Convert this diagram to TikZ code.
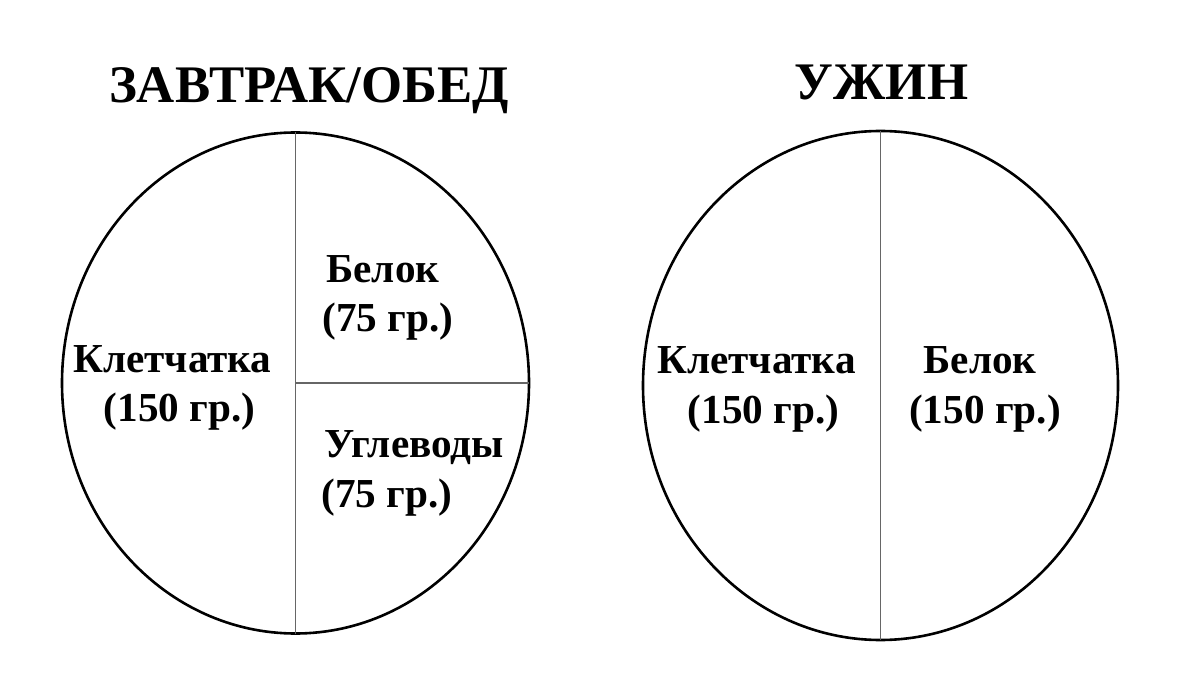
\documentclass[tikz,border=0pt]{standalone}
\usepackage{fontspec}
\setmainfont{Liberation Serif}
\begin{document}
\begin{tikzpicture}[x=0.5pt,y=-0.5pt,
  plate/.style={draw=black,line width=1.3pt},
  divider/.style={draw=black!60,line width=0.7pt},
  titletext/.style={font=\fontsize{26.4pt}{30pt}\selectfont\bfseries,inner sep=0pt,anchor=base},
  bodytext/.style={font=\fontsize{20.6pt}{24pt}\selectfont\bfseries,inner sep=0pt}
]
\useasboundingbox[fill=white] (0,0) rectangle (1200,700);
% titles
\node[titletext] (t1) at (309,103) {ЗАВТРАК/ОБЕД};
\node[titletext] (t2) at (881.5,100) {УЖИН};
% left plate
\coordinate (lc) at (295.5,383);
\draw[plate] (lc) ellipse [x radius=233.5, y radius=250.5];
\coordinate (ltop) at (295.5,132.5);
\coordinate (lbot) at (295.5,633.5);
\coordinate (lright) at (529,383);
\draw[divider] (ltop) -- (lbot);
\draw[divider] (lc) -- (lright);
% right plate
\coordinate (rc) at (880.5,385.5);
\draw[plate] (rc) ellipse [x radius=237.5, y radius=254.5];
\coordinate (rtop) at (880.5,131);
\coordinate (rbot) at (880.5,640);
\draw[divider] (rtop) -- (rbot);
% left texts
\node[bodytext,anchor=base] (l1a) at (172.5,372) {Клетчатка};
\node[bodytext,anchor=base] (l1b) at (179.5,422) {(150 гр.)};
\node[bodytext,anchor=base west] (l2a) at (326,283) {Белок};
\node[bodytext,anchor=base west] (l2b) at (322,332) {(75 гр.)};
\node[bodytext,anchor=base west] (l3a) at (324,457) {Углеводы};
\node[bodytext,anchor=base west] (l3b) at (321,507) {(75 гр.)};
% right texts
\node[bodytext,anchor=base] (r1a) at (756.5,373) {Клетчатка};
\node[bodytext,anchor=base] (r1b) at (763.5,423) {(150 гр.)};
\node[bodytext,anchor=base] (r2a) at (980,373) {Белок};
\node[bodytext,anchor=base] (r2b) at (985,423) {(150 гр.)};
\end{tikzpicture}
\end{document}
